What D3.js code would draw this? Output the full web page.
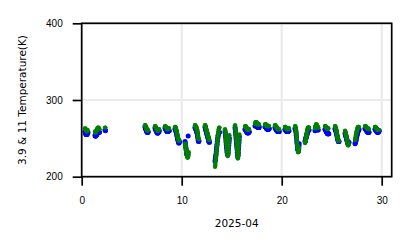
<!DOCTYPE html>
<html lang="en">

<head>
    <meta charset="UTF-8">
    <title>3.9 & 11 Temperature</title>
    <style>
        body {
            padding: 0px;
            margin: 0px;
            background-color: white;
        }

        svg {
            display: block;
            font-family: "DejaVu Sans", sans-serif;
        }

        .axis path,
        .axis line {
            stroke: black;
            stroke-width: 1.7;
        }

        .axis text {
            font-size: 10px;
            fill: black;
        }

        .grid line {
            stroke: #ebebeb;
            stroke-width: 2.2;
        }
    </style>
</head>

<body>
    <div id="svg"></div>

    <script src="https://cdn.jsdelivr.net/npm/d3@7"></script>
    <script>

        // data: day of month, reading hours, and temperatures (K) per day
        const days = [0, 1, 2, 6, 7, 8, 9, 10, 11, 12, 13, 14, 15, 16, 17, 18, 19, 20, 21, 22, 23, 24, 25, 26, 27, 28, 29];
        const hours = [8, 8.5, 9, 9.5, 10, 10.5, 11, 11.5, 12, 12.5, 13, 13.5, 14, 14.5, 15, 15.5, 16, 16.5, 17, 17.5, 18, 18.5];

        const xTicks = [0, 10, 20, 30];
        const yTicks = [200, 300, 400];

        // 11 um brightness temperature (green)
        const t11 = [
            [263, 263, 262, 262, 261, 261, 260, 260, 260, 259, 260, 260, 261],
            [259, 258, 258, 258, 259, 259, 260, 260, 261, 261, 262, 262, 263, 263, 264, 264, 264, 263, 263, 263, 262, 262],
            [264, 264],
            [267, 267, 266, 266, 265, 265, 264, 263, 262, 262, 261, 261, 260, 261, 261],
            [266, 266, 265, 265, 264, 264, 263, 263, 262, 262, 261, 261, 260, 260, 260, 261, 261, 261, 262, 262],
            [266, 266, 265, 265, 265, 264, 264, 264, 263, 263, 263, 262, 262, 262, 262, 263, 263, 263, 263, 263],
            [265, 265, 264, 264, 263, 262, 261, 260, 259, 257, 256, 255, 253, 252, 251, 250, 249, 248, 247, 247, 248],
            [null, 243, 241, 239, 237, 235, 233, 231, 229, 228, 227, 226, 225, 225, 226, 227, 228, 230, 232],
            [267, 267, 266, 266, 265, 265, 264, 264, 263, 262, 261, 260, 258, 256, 254, 252, 250, 249, 249],
            [267, 267, 266, 265, 264, 263, 262, 261, 260, 259, 258, 257, 256, 255, 254, 253, 252, 251, 250, 249, 248, 248],
            [213, 215, 218, 221, 224, 227, 230, 233, 236, 239, 242, 245, 248, 251, 254, 256, 258, 260, 262, 263, 264, 264],
            [262, 260, 257, 254, 251, 248, 245, 242, 239, 236, 233, 230, 228, 227, 228, 231, 234, 238, 242, 246, 250, 254],
            [267, 265, 262, 259, 256, 253, 250, 246, 242, 238, 234, 230, 226, 224, 224, 227, 231, 235, 240, 245, 250, 255],
            [265, 266, 266, 266, 265, 265, 264, 264, 263, 263, 262, 262, 262, 261, 261, 261, 261, 262, 262, 262],
            [269, 270, 270, 271, 271, 271, 271, 270, 270, 270, 269, 269, 269, 268, 268, 268, 268, 268, 268, 268],
            [268, 268, 268, 268, 268, 267, 267, 267, 267, 267, 266, 266, 266, 266, 266, 266, 266, 266, 266, 266],
            [267, 267, 266, 266, 266, 265, 265, 265, 264, 264, 264, 263, 263, 263, 262, 262, 262, 262, 262, 262],
            [265, 265, 265, 264, 264, 264, 263, 263, 263, 263, 262, 262, 262, 262, 263, 263, 263, 263, 263, 263],
            [266, 266, 265, 264, 262, 259, 256, 253, 250, 247, 244, 241, 238, 236, 234, 232, 232, 233, 235, 238],
            [244, 245, 246, 247, 248, 250, 252, 254, 256, 258, 260, 261, 262, 263, 264, 264, 264, 264, 264, 264],
            [263, 264, 265, 266, 267, 268, 268, 268, 267, 267, 266, 266, 265, 265, 264, 264],
            [266, 266, 266, 265, 265, 265, 264, 264, 264, 264, 263, 263, 263, 263, 263, 263, 263],
            [266, 266, 265, 264, 263, 262, 261, 259, 258, 256, 254, 253, 251, 250, 249, 248, 247, 247, 247],
            [260, 259, 258, 257, 256, 255, 253, 252, 250, 249, 247, 246, 244, 243, 242, 241, 241, 242, 243],
            [248, 249, 250, 252, 253, 255, 256, 258, 259, 260, 261, 262, 263, 264, 264, 265, 265, 265, 265],
            [266, 266, 266, 266, 265, 265, 265, 264, 264, 264, 263, 263, 263, 263, 263, 263, 262, 262, 262],
            [265, 265, 265, 264, 264, 264, 263, 263, 263, 262, 262, 262, 261, 261, 261, 261, 261, 261, 261]
        ];

        // 3.9 um brightness temperature (blue)
        const t39 = [
            [259, 258, 257, 256, 256, 255, 255, 255, 255, 255, 256, 256, 257, 257, 258],
            [254, 253, 253, 253, 253, 254, 254, 255, 255, 256, 256, 257, 257, 258, 258, 259, 259, 259, 259, 258, 258, 258],
            [261, 261, 260],
            [265, 264, 263, 263, 262, 262, 261, 260, 259, 259, 258, 258, 258, 258, 258, 259],
            [264, 263, 262, 262, 261, 261, 260, 259, 259, 258, 258, 257, 257, 257, 257, 258, 258, 259, 259, 259, 260],
            [264, 263, 263, 262, 262, 261, 261, 260, 260, 260, 259, 259, 259, 259, 259, 260, 260, 260, 260, 260, 260],
            [263, 262, 262, 261, 260, 259, 258, 257, 256, 254, 253, 252, 250, 249, 248, 247, 246, 245, 244, 244, 245, 246],
            [246, 244, 242, 240, 238, 236, 234, 232, 230, 229, 229, 230, 231, null, null, 253],
            [264, 264, 263, 263, 262, 262, 261, 260, 259, 258, 257, 256, 254, 252, 250, 248, 247, 246, 246, 247],
            [265, 264, 263, 262, 261, 260, 259, 258, 257, 256, 255, 254, 253, 252, 251, 250, 249, 248, 247, 246, 245, 245],
            [220, 222, 224, 226, 228, 230, 233, 236, 238, 241, 243, 246, 248, 250, 252, 254, 255, 256, 257, 258, 258, 258],
            [259, 257, 254, 251, 248, 245, 242, 239, 237, 234, 232, 230, 229, 229, 230, 232, 235, 238, 241, 244, 247, 250],
            [264, 262, 259, 256, 253, 250, 247, 244, 241, 238, 235, 232, 229, 227, 227, 229, 232, 236, 240, 244, 248, 252],
            [262, 262, 262, 261, 261, 260, 260, 259, 259, 258, 258, 258, 258, 257, 257, 257, 258, 258, 258, 258, 259],
            [266, 266, 267, 267, 267, 267, 267, 266, 266, 266, 265, 265, 265, 265, 264, 264, 264, 264, 264, 264, 265],
            [265, 265, 265, 265, 264, 264, 264, 263, 263, 263, 263, 262, 262, 262, 262, 262, 262, 262, 263, 263, 263],
            [264, 264, 263, 263, 263, 262, 262, 261, 261, 260, 260, 260, 259, 259, 259, 259, 259, 259, 259, 259, 259],
            [262, 262, 261, 261, 261, 260, 260, 260, 259, 259, 259, 259, 259, 259, 259, 259, 260, 260, 260, 260],
            [263, 263, 262, 261, 259, 257, 254, 251, 248, 245, 243, 240, 238, 236, 235, 234, 234, 235, 237, 240, 243],
            [246, 247, 248, 249, 250, 251, 252, 253, 254, 255, 256, 257, 258, 259, 260, 260, 261, 261, 261, 261],
            [260, 261, 262, 263, 264, 265, 265, 265, 264, 264, 263, 263, 262, 262, 261, 261],
            [262, 262, 261, 261, 260, 260, 259, 259, 258, 258, 257, 257, 256, 256, 256, 256, 256, 256, 256],
            [263, 262, 262, 261, 260, 259, 258, 257, 256, 254, 253, 251, 250, 249, 248, 247, 246, 246, 246, 246],
            [257, 256, 255, 254, 253, 252, 251, 250, 249, 248, 247, 246, 245, 244, 243, 243, 243, 244, 244, 245],
            [243, 244, 245, 246, 247, 248, 250, 251, 252, 254, 255, 256, 257, 258, 259, 260, 261, 261, 261, 262],
            [263, 263, 263, 262, 262, 262, 261, 261, 260, 260, 259, 259, 259, 258, 258, 258, 258, 258, 258, 258],
            [262, 262, 262, 261, 261, 261, 260, 260, 259, 259, 259, 258, 258, 258, 258, 258, 259, 259, 259, 260, 260]
        ];

        // SVG size and plot box
        const w = 411;
        const h = 248;
        const plotLeft = 81.7, plotRight = 391.7, plotTop = 23.3, plotBottom = 176.7;

        const xScale = d3.scaleLinear().domain([0, 31]).range([plotLeft, plotRight]);
        const yScale = d3.scaleLinear().domain([200, 400]).range([plotBottom, plotTop]);

        const svg = d3.select("#svg")
            .append("svg")
            .attr("width", w)
            .attr("height", h);

        // turn the day/hour tables into points
        function toPoints(table) {
            let pts = [];
            for (let i = 0; i < days.length; i++) {
                for (let j = 0; j < table[i].length; j++) {
                    if (table[i][j] !== null) {
                        pts.push({ x: days[i] + hours[j] / 24, y: table[i][j] });
                    }
                }
            }
            return pts;
        }

        // grid
        const grid = svg.append("g").attr("class", "grid");
        grid.selectAll(".gx")
            .data(xTicks)
            .enter()
            .append("line")
            .attr("x1", d => xScale(d))
            .attr("x2", d => xScale(d))
            .attr("y1", plotTop)
            .attr("y2", plotBottom);
        grid.selectAll(".gy")
            .data(yTicks)
            .enter()
            .append("line")
            .attr("x1", plotLeft)
            .attr("x2", plotRight)
            .attr("y1", d => yScale(d))
            .attr("y2", d => yScale(d));

        // points: blue first, green on top
        svg.append("g")
            .selectAll("circle")
            .data(toPoints(t39))
            .enter()
            .append("circle")
            .attr("cx", d => xScale(d.x))
            .attr("cy", d => yScale(d.y))
            .attr("r", 2.5)
            .attr("fill", "#0000ff");

        svg.append("g")
            .selectAll("circle")
            .data(toPoints(t11))
            .enter()
            .append("circle")
            .attr("cx", d => xScale(d.x))
            .attr("cy", d => yScale(d.y))
            .attr("r", 2.2)
            .attr("fill", "#008000");

        // frame
        svg.append("rect")
            .attr("x", plotLeft)
            .attr("y", plotTop)
            .attr("width", plotRight - plotLeft)
            .attr("height", plotBottom - plotTop)
            .attr("fill", "none")
            .attr("stroke", "black")
            .attr("stroke-width", 1.7);

        // axes
        svg.append("g")
            .attr("class", "axis")
            .attr("transform", `translate(0, ${plotBottom})`)
            .call(d3.axisBottom(xScale).tickValues(xTicks).tickSize(9).tickPadding(11).tickSizeOuter(0))
            .call(g => g.select(".domain").remove());

        svg.append("g")
            .attr("class", "axis")
            .attr("transform", `translate(${plotLeft}, 0)`)
            .call(d3.axisLeft(yScale).tickValues(yTicks).tickSize(9).tickPadding(10).tickSizeOuter(0))
            .call(g => g.select(".domain").remove());

        // labels
        svg.append("text")
            .attr("x", (plotLeft + plotRight) / 2)
            .attr("y", 227)
            .attr("text-anchor", "middle")
            .attr("font-size", "10.5px")
            .text("2025-04");

        svg.append("text")
            .attr("transform", `translate(26, ${(plotTop + plotBottom) / 2}) rotate(-90)`)
            .attr("text-anchor", "middle")
            .attr("font-size", "10.5px")
            .text("3.9 & 11 Temperature(K)");

    </script>
</body>

</html>
